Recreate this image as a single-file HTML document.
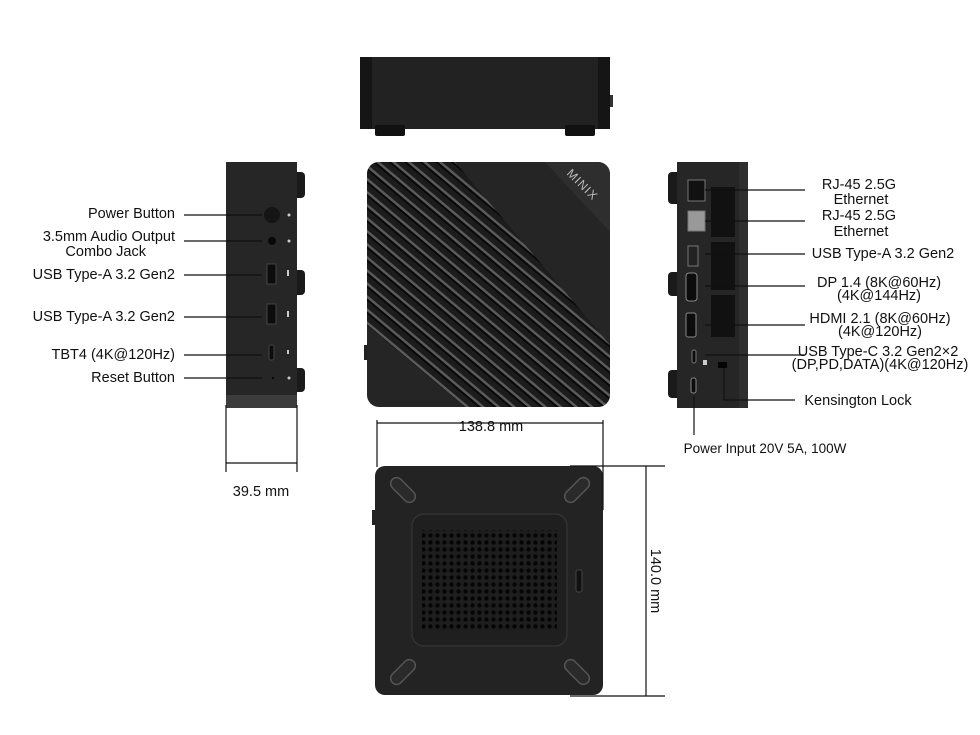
<!DOCTYPE html>
<html><head><meta charset="utf-8"><style>
html,body{margin:0;padding:0;background:#fff}
svg{display:block}
text{font-family:"Liberation Sans",sans-serif;font-size:14.5px;fill:#111}
</style></head><body>
<svg width="980" height="735" viewBox="0 0 980 735" xmlns="http://www.w3.org/2000/svg">
<defs>
<pattern id="str" width="10" height="10" patternUnits="userSpaceOnUse" patternTransform="rotate(40)">
<rect width="10" height="10" fill="#1c1c1c"/>
<rect y="0" width="10" height="2.5" fill="#5a5a5a"/>
<rect y="2.5" width="10" height="2" fill="#080808"/>
</pattern>
<pattern id="holes" width="7" height="7" patternUnits="userSpaceOnUse">
<rect width="7" height="7" fill="#1e1e1e"/>
<circle cx="3.5" cy="3.5" r="2.2" fill="#050505"/>
</pattern>
<clipPath id="topclip"><rect x="367" y="162" width="243" height="245" rx="12"/></clipPath>
</defs>

<!-- top (front) view -->
<rect x="360" y="57" width="250" height="72" fill="#222"/>
<rect x="360" y="57" width="12" height="72" fill="#151515"/>
<rect x="598" y="57" width="12" height="72" fill="#151515"/>
<rect x="375" y="125" width="30" height="11" rx="2" fill="#111"/>
<rect x="565" y="125" width="30" height="11" rx="2" fill="#111"/>
<rect x="610" y="95" width="3" height="12" fill="#333"/>

<!-- main top view -->
<rect x="367" y="162" width="243" height="245" rx="12" fill="#252525"/>
<g clip-path="url(#topclip)">
<polygon points="367,162 455,162 610,345 610,407 465,407 367,325" fill="url(#str)"/>
<polygon points="545,162 610,162 610,232" fill="#2e2e2e"/>
</g>
<text x="566" y="174" transform="rotate(45 566 174)" style="fill:#bbb;font-size:12px;letter-spacing:1px">MINIX</text>
<rect x="364" y="345" width="3" height="15" fill="#222"/>

<!-- left side view -->
<rect x="226" y="162" width="71" height="236" fill="#262626"/>
<rect x="226" y="395" width="71" height="13" fill="#3c3c3c"/>
<path d="M297,172 h4 a4,4 0 0 1 4,4 v18 a4,4 0 0 1 -4,4 h-4z" fill="#1a1a1a"/>
<path d="M297,270 h4 a4,4 0 0 1 4,4 v17 a4,4 0 0 1 -4,4 h-4z" fill="#1a1a1a"/>
<path d="M297,368 h4 a4,4 0 0 1 4,4 v16 a4,4 0 0 1 -4,4 h-4z" fill="#1a1a1a"/>
<circle cx="272" cy="215" r="8" fill="#151515"/>
<circle cx="272" cy="241" r="4" fill="#080808"/>
<rect x="267" y="264" width="9" height="20" fill="#0c0c0c" stroke="#444"/>
<rect x="267" y="304" width="9" height="20" fill="#0c0c0c" stroke="#444"/>
<rect x="269" y="345" width="5" height="15" rx="2" fill="#0c0c0c" stroke="#444"/>
<circle cx="273" cy="378" r="1" fill="#000"/>
<g fill="#ccc"><circle cx="289" cy="215" r="1.5"/><circle cx="289" cy="241" r="1.5"/><rect x="287" y="270" width="2" height="6"/><rect x="287" y="311" width="2" height="6"/><rect x="287" y="350" width="2" height="4"/><circle cx="289" cy="378" r="1.5"/></g>

<!-- right side view -->
<rect x="677" y="162" width="71" height="246" fill="#262626"/>
<rect x="739" y="162" width="9" height="246" fill="#2e2e2e"/>
<path d="M677,172 h-5 a4,4 0 0 0 -4,4 v24 a4,4 0 0 0 4,4 h5z" fill="#1a1a1a"/>
<path d="M677,272 h-5 a4,4 0 0 0 -4,4 v16 a4,4 0 0 0 4,4 h5z" fill="#1a1a1a"/>
<path d="M677,370 h-5 a4,4 0 0 0 -4,4 v20 a4,4 0 0 0 4,4 h5z" fill="#1a1a1a"/>
<rect x="711" y="187" width="24" height="50" fill="#111"/>
<rect x="711" y="242" width="24" height="48" fill="#111"/>
<rect x="711" y="295" width="24" height="42" fill="#111"/>
<rect x="688" y="180" width="17" height="21" fill="#111" stroke="#777"/>
<rect x="688" y="211" width="17" height="20" fill="#999" stroke="#777"/>
<rect x="688" y="246" width="10" height="20" fill="#222" stroke="#777"/>
<rect x="686" y="273" width="11" height="28" rx="3" fill="#0c0c0c" stroke="#888"/>
<rect x="686" y="313" width="10" height="24" rx="2" fill="#0c0c0c" stroke="#888"/>
<rect x="692" y="350" width="4" height="13" rx="2" fill="#0c0c0c" stroke="#777"/>
<rect x="703" y="360" width="4" height="5" fill="#ccc"/>
<rect x="718" y="362" width="9" height="6" fill="#050505"/>
<rect x="691" y="378" width="5" height="15" rx="2" fill="#0c0c0c" stroke="#888"/>

<!-- bottom view -->
<rect x="375" y="466" width="228" height="229" rx="10" fill="#232323"/>
<rect x="372" y="510" width="3" height="15" fill="#222"/>
<rect x="412" y="514" width="155" height="132" rx="12" fill="#1f1f1f" stroke="#3a3a3a"/>
<rect x="422" y="530" width="135" height="100" fill="url(#holes)"/>
<rect x="576" y="570" width="6" height="22" rx="2" fill="#111" stroke="#444"/>
<g fill="#2a2a2a" stroke="#555" stroke-width="1.5">
<rect x="388" y="484" width="30" height="12" rx="6" transform="rotate(45 403 490)"/>
<rect x="562" y="484" width="30" height="12" rx="6" transform="rotate(-45 577 490)"/>
<rect x="388" y="666" width="30" height="12" rx="6" transform="rotate(-45 403 672)"/>
<rect x="562" y="666" width="30" height="12" rx="6" transform="rotate(45 577 672)"/>
</g>

<!-- leader lines -->
<g stroke="#111" stroke-width="1.2" fill="none">
<line x1="184" y1="215" x2="262" y2="215"/>
<line x1="184" y1="241" x2="262" y2="241"/>
<line x1="184" y1="275" x2="262" y2="275"/>
<line x1="184" y1="317" x2="262" y2="317"/>
<line x1="184" y1="355" x2="262" y2="355"/>
<line x1="184" y1="378" x2="262" y2="378"/>
<line x1="705" y1="190" x2="805" y2="190"/>
<line x1="705" y1="221" x2="805" y2="221"/>
<line x1="705" y1="254" x2="805" y2="254"/>
<line x1="705" y1="286" x2="805" y2="286"/>
<line x1="705" y1="325" x2="805" y2="325"/>
<line x1="705" y1="355" x2="805" y2="355"/>
<polyline points="724,368 724,400 795,400"/>
<line x1="694" y1="396" x2="694" y2="435"/>
<!-- dims -->
<line x1="226" y1="405" x2="226" y2="472"/>
<line x1="297" y1="405" x2="297" y2="472"/>
<line x1="226" y1="463" x2="297" y2="463"/>
<line x1="377" y1="420" x2="377" y2="467"/>
<line x1="603" y1="420" x2="603" y2="510"/>
<line x1="377" y1="423" x2="603" y2="423"/>
<line x1="570" y1="466" x2="665" y2="466"/>
<line x1="570" y1="696" x2="665" y2="696"/>
<line x1="646" y1="466" x2="646" y2="696"/>
</g>

<!-- labels -->
<g text-anchor="end">
<text x="175" y="218">Power Button</text>
<text x="175" y="241">3.5mm Audio Output</text>
<text x="146" y="256">Combo Jack</text>
<text x="175" y="279">USB Type-A 3.2 Gen2</text>
<text x="175" y="321">USB Type-A 3.2 Gen2</text>
<text x="175" y="359">TBT4 (4K@120Hz)</text>
<text x="175" y="382">Reset Button</text>
</g>
<g text-anchor="middle">
<text x="859" y="189">RJ-45 2.5G</text>
<text x="861" y="204">Ethernet</text>
<text x="859" y="220">RJ-45 2.5G</text>
<text x="861" y="236">Ethernet</text>
<text x="883" y="258">USB Type-A 3.2 Gen2</text>
<text x="879" y="287">DP 1.4 (8K@60Hz)</text>
<text x="879" y="300">(4K@144Hz)</text>
<text x="880" y="323">HDMI 2.1 (8K@60Hz)</text>
<text x="880" y="336">(4K@120Hz)</text>
<text x="878" y="356">USB Type-C 3.2 Gen2×2</text>
<text x="880" y="369">(DP,PD,DATA)(4K@120Hz)</text>
<text x="858" y="405">Kensington Lock</text>
<text x="765" y="453" style="font-size:13.5px">Power Input 20V 5A, 100W</text>
<text x="491" y="431">138.8 mm</text>
<text x="261" y="496">39.5 mm</text>
<text x="0" y="0" transform="translate(651 581) rotate(90)">140.0 mm</text>
</g>
</svg>
</body></html>
